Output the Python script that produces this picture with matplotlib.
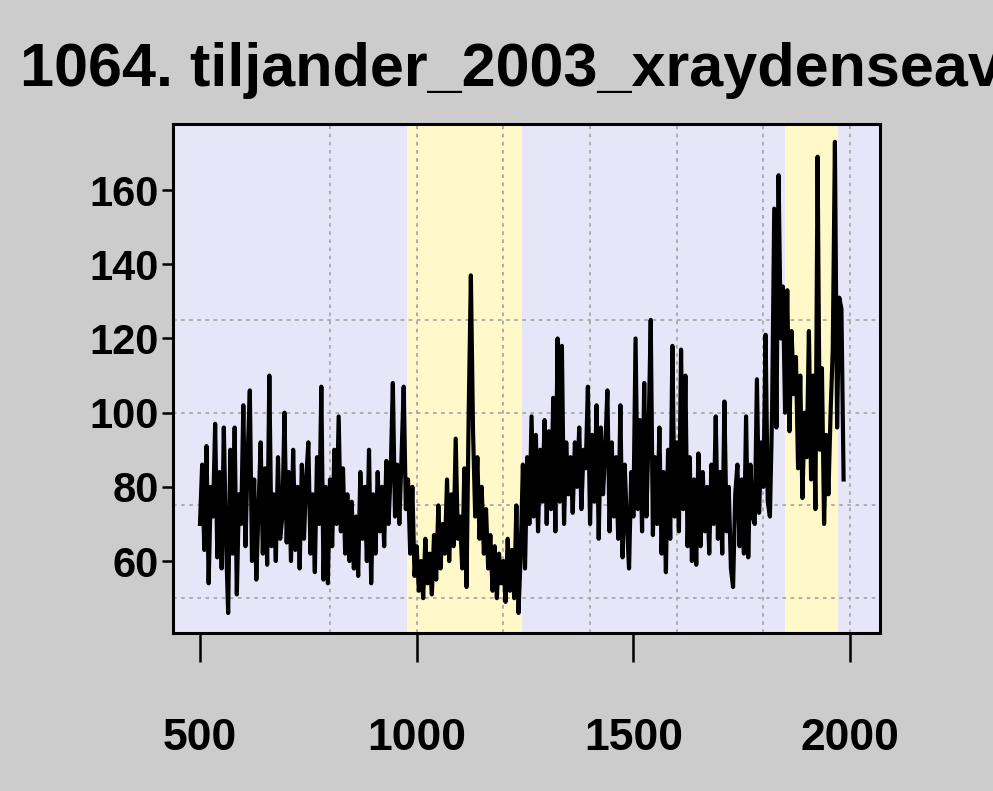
import numpy as np
import matplotlib.pyplot as plt

# tiljander 2003 x-ray density at 5-year steps
years = np.arange(500, 1990, 5)
xray = [
    70, 86, 63, 91, 54, 80, 72, 97, 61, 84,
    58, 96, 66, 46, 90, 62, 96, 51, 78, 70,
    102, 64, 88, 106, 60, 82, 55, 74, 92, 62,
    85, 59, 110, 64, 78, 60, 88, 66, 72, 100,
    65, 84, 60, 90, 63, 80, 58, 86, 66, 82,
    92, 62, 78, 57, 88, 70, 107, 55, 80, 54,
    82, 64, 90, 70, 99, 68, 85, 62, 78, 60,
    76, 58, 72, 56, 84, 66, 80, 60, 90, 54,
    78, 62, 84, 68, 80, 64, 87, 70, 84, 108,
    72, 86, 70, 88, 107, 74, 82, 62, 80, 56,
    64, 52, 60, 50, 66, 54, 62, 51, 67, 55,
    75, 58, 70, 62, 82, 60, 78, 64, 93, 66,
    72, 58, 85, 53, 100, 137, 95, 72, 88, 66,
    80, 62, 74, 58, 67, 52, 64, 50, 62, 54,
    60, 49, 66, 52, 63, 50, 75, 46, 62, 86,
    58, 88, 70, 99, 72, 94, 68, 90, 76, 98,
    70, 95, 74, 104, 68, 120, 76, 118, 70, 92,
    78, 88, 73, 92, 80, 96, 74, 90, 85, 107,
    70, 94, 76, 102, 66, 96, 78, 90, 106, 68,
    92, 72, 88, 66, 102, 61, 86, 70, 58, 84,
    72, 120, 74, 98, 68, 108, 72, 94, 125, 67,
    88, 70, 96, 62, 84, 57, 90, 66, 118, 72,
    92, 68, 117, 74, 110, 64, 88, 60, 82, 59,
    89, 64, 84, 68, 80, 62, 86, 70, 99, 66,
    84, 62, 103, 68, 80, 58, 53, 78, 86, 64,
    82, 62, 99, 61, 86, 72, 70, 109, 73, 92,
    80, 121, 76, 72, 100, 155, 96, 164, 120, 134,
    100, 133, 95, 122, 105, 115, 85, 110, 77, 100,
    88, 122, 82, 110, 74, 169, 90, 112, 70, 94,
    78, 100, 117, 173, 96, 131, 128, 82,
]
bands = [(978, 1243), (1850, 1972)]
xticks = [500, 1000, 1500, 2000]
yticks = [60, 80, 100, 120, 140, 160]
vgrid = [800, 1000, 1200, 1400, 1600, 1800, 2000]
hgrid = [50, 75, 100, 125]
title = '1064. tiljander_2003_xraydenseave'

fam = ['Liberation Sans', 'DejaVu Sans']

fig = plt.figure(figsize=(9.93, 7.91), dpi=100, facecolor='#cccccc')
ax = fig.add_axes([0.1742, 0.1997, 0.712, 0.6435])
ax.set_facecolor('#e6e6f8')

for a, b in bands:
    ax.axvspan(a, b, color='#fff8c8', lw=0, zorder=0)
for g in vgrid:
    ax.axvline(g, color='#a8a8a8', lw=1.3, ls=(0, (2, 2.5)), zorder=1)
for g in hgrid:
    ax.axhline(g, color='#a8a8a8', lw=1.3, ls=(0, (2, 2.5)), zorder=1)

ax.plot(years, xray, color='black', lw=3, zorder=3)

ax.set_xlim(437.7, 2069)
ax.set_ylim(40.6, 177.8)
ax.set_xticks(xticks)
ax.set_yticks(yticks)
ax.tick_params(axis='x', length=21, width=1.8, pad=40, labelsize=32)
ax.tick_params(axis='y', length=8, width=1.8, pad=2, labelsize=30)
for lab in ax.get_xticklabels() + ax.get_yticklabels():
    lab.set_family(fam)
    lab.set_fontweight('bold')
for s in ax.spines.values():
    s.set_linewidth(2.2)

fig.text(20 / 993, 1 - 86 / 791, title, fontsize=44, fontweight='bold',
         family=fam, va='baseline', ha='left')

fig.savefig('out.png', dpi=100, facecolor=fig.get_facecolor())
